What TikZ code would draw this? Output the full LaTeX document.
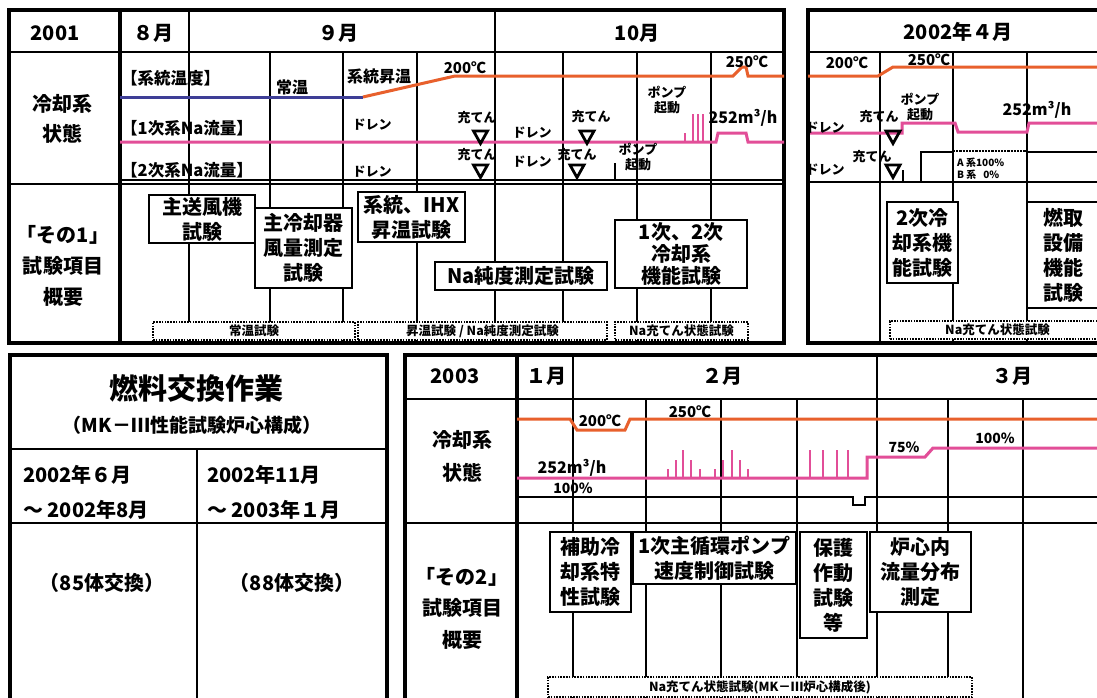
\documentclass[tikz,border=0pt]{standalone}
\usepackage{fontspec}
\setmainfont{Noto Sans CJK JP}
\definecolor{orng}{RGB}{232,96,44}
\definecolor{pnk}{RGB}{226,78,152}
\definecolor{blu}{RGB}{62,62,150}
\tikzset{
  border/.style={line width=3.2pt},
  grid/.style={line width=1.4pt},
  sep/.style={line width=2.2pt},
  tline/.style={line width=3pt, orng},
  pline/.style={line width=3pt, pnk},
  bline/.style={line width=3pt, blu},
  spike/.style={line width=2.2pt, pnk},
  box/.style={draw, line width=2pt, fill=white, align=center, inner sep=0pt, font=\fontsize{20}{25}\selectfont\bfseries},
  dbox/.style={draw, dash pattern=on 1.6pt off 1.2pt, line width=1.7pt, fill=white, inner sep=0pt, font=\fontsize{12.5}{14}\selectfont\bfseries},
  lbl/.style={align=center, inner sep=0pt, font=\fontsize{20}{30}\selectfont\bfseries},
  hdr/.style={inner sep=0pt, font=\fontsize{20}{22}\selectfont\bfseries},
  sm/.style={inner sep=0pt, font=\fontsize{15}{17}\selectfont\bfseries},
  xs/.style={inner sep=0pt, align=center, font=\fontsize{13}{14.5}\selectfont\bfseries},
  tiny/.style={inner sep=0pt, anchor=west, font=\fontsize{10}{11}\selectfont\bfseries},
  tri/.style={line width=2.8pt, black, line join=miter}
}
\newcommand\mytri[2]{\draw[tri] (#1-7,#2) -- (#1+7,#2) -- (#1,#2+12.5) -- cycle;}
\begin{document}
\begin{tikzpicture}[x=1pt,y=-1pt]
\useasboundingbox (0,0) rectangle (1097,697);
\fill[white] (0,0) rectangle (1097,697);
\clip (0,0) rectangle (1097,697);

%================ TOP-LEFT PANEL ================
\foreach \x in {270,343,417,563,637,711} \draw[grid] (\x,52) -- (\x,343);
\draw[grid] (189,10) -- (189,343);
\draw[grid] (495,10) -- (495,343);
\draw[grid] (9,52) -- (784,52);
\draw[sep] (120,180) -- (784,180);
\draw[sep] (9,184) -- (784,184);
\draw[border] (120,10) -- (120,343);
\draw[border] (9,10) rectangle (784,343);

\node[hdr] (h2001) at (55,33) {2001};
\node[hdr] (h8) at (153,33) {８月};
\node[hdr] (h9) at (338,33) {９月};
\node[hdr] (h10) at (637,33) {10月};
\node[lbl] (l1a) at (62,119) {冷却系\\状態};
\node[lbl, font=\fontsize{20}{31}\selectfont\bfseries] (l1b) at (63,266) {「その1」\\試験項目\\概要};

% temperature
\draw[bline] (120,97) -- (363,97);
\draw[tline] (363,97) -- (455,76) -- (733,76) -- (742,67) -- (746,67) -- (748,76) -- (784,76);
% primary flow
\draw[pline] (120,142) -- (716,142) -- (718,133) -- (746,133) -- (748,142) -- (784,142);
\foreach \x/\t in {685/133,693/114,698/114,703/114} \draw[spike] (\x,142) -- (\x,\t);
% secondary flow start
\draw[line width=2.2pt] (615,163) -- (615,180);

\node[sm, anchor=west, font=\fontsize{16.5}{18}\selectfont\bfseries] (t1) at (121,78) {【系統温度】};
\node[sm, font=\fontsize{16}{18}\selectfont\bfseries] (t2) at (292,87) {常温};
\node[sm, font=\fontsize{16}{18}\selectfont\bfseries] (t3) at (379,76) {系統昇温};
\node[sm] (t4) at (465,68) {200℃};
\node[sm] (t5) at (747,62) {250℃};
\node[sm, anchor=west, font=\fontsize{16.5}{18}\selectfont\bfseries] (t6) at (121,128) {【1次系Na流量】};
\node[sm, anchor=west, font=\fontsize{16.5}{18}\selectfont\bfseries] (t7) at (121,170) {【2次系Na流量】};
\node[xs] (d1) at (372,125) {ドレン};
\node[xs] (d2) at (372,172) {ドレン};
\node[xs] (c1) at (477,118) {充てん};
\node[xs] (d3) at (532,133) {ドレン};
\node[xs] (c2) at (591,117) {充てん};
\node[xs] (c3) at (477,155) {充てん};
\node[xs] (d4) at (532,162) {ドレン};
\node[xs] (c4) at (577,155) {充てん};
\node[xs] (p1) at (667,100) {ポンプ\\起動};
\node[xs] (p2) at (638,157) {ポンプ\\起動};
\node[sm, font=\fontsize{16}{18}\selectfont\bfseries] (f1) at (743,118) {252m³/h};
\mytri{480.5}{131}
\mytri{587}{131}
\mytri{480.5}{165}
\mytri{577}{165}

\node[box, minimum width=106pt, minimum height=48pt] (b1) at (202,219) {主送風機\\試験};
\node[box, minimum width=97pt, minimum height=80pt] (b2) at (303.5,248) {主冷却器\\風量測定\\試験};
\node[box, minimum width=107pt, minimum height=50pt] (b3) at (411.5,217) {系統、IHX\\昇温試験};
\node[box, minimum width=172pt, minimum height=28pt] (b4) at (521,276) {Na純度測定試験};
\node[box, minimum width=132pt, minimum height=68pt, font=\fontsize{20}{22}\selectfont\bfseries] (b5) at (681,254) {1次、2次\\冷却系\\機能試験};
\node[dbox, minimum width=202pt, minimum height=18pt] (g1) at (254,331) {常温試験};
\node[dbox, minimum width=249pt, minimum height=18pt] (g2) at (482.5,331) {昇温試験 / Na純度測定試験};
\node[dbox, minimum width=133pt, minimum height=18pt] (g3) at (681.5,331) {Na充てん状態試験};

%================ TOP-RIGHT PANEL ================
\foreach \x in {880,953,1027} \draw[grid] (\x,52) -- (\x,343);
\draw[grid] (808,52) -- (1105,52);
\draw[sep] (808,182) -- (1105,182);
\draw[border] (808,10) rectangle (1105,343);
\node[hdr] (h2002) at (958,32) {2002年４月};
\draw[tline] (808,76) -- (878,76) -- (893,67) -- (1105,67);
\draw[pline] (810,133) -- (902,133) -- (902,123) -- (955,123) -- (958,132) -- (1027,132) -- (1029,123) -- (1105,123);
\draw[line width=2.2pt] (903,170) -- (903,182) -- (921,182) -- (921,152) -- (953,152);
\draw[line width=2.2pt, densely dotted] (953,151) -- (1027,151);
\draw[line width=2.2pt] (1027,152) -- (1105,152);
\node[sm] (t8) at (847,63) {200℃};
\node[sm] (t9) at (929,60) {250℃};
\node[xs] (d5) at (825,128) {ドレン};
\node[xs] (c5) at (879,117) {充てん};
\node[xs] (p3) at (920,107) {ポンプ\\起動};
\node[sm, font=\fontsize{16}{18}\selectfont\bfseries] (f2) at (1037,110) {252m³/h};
\node[xs] (d6) at (825,170) {ドレン};
\node[xs] (c6) at (872,157) {充てん};
\node[tiny] (a1) at (957,163) {A 系100\%};
\node[tiny] (a2) at (957,175) {B 系\ \ \ 0\%};
\mytri{893}{131}
\mytri{893}{165}
\node[box, minimum width=71pt, minimum height=81pt] (b6) at (922.5,242.5) {2次冷\\却系機\\能試験};
\node[box, minimum width=73pt, minimum height=106pt] (b7) at (1063.5,255) {燃取\\設備\\機能\\試験};
\node[dbox, minimum width=215pt, minimum height=18pt] (g4) at (997.5,330) {Na充てん状態試験};

%================ BOTTOM-LEFT PANEL ================
\draw[grid] (10,449) -- (387,449);
\draw[grid] (10,523) -- (387,523);
\draw[grid] (197,449) -- (197,705);
\draw[border] (10,355) rectangle (387,705);
\node[inner sep=0pt, font=\fontsize{29}{32}\selectfont\bfseries] (n1) at (196,388) {燃料交換作業};
\node[inner sep=0pt, font=\fontsize{19}{21}\selectfont\bfseries] (n2) at (192,425) {（MK－Ⅲ性能試験炉心構成）};
\node[hdr, anchor=west] (n3) at (23,475) {2002年６月};
\node[hdr, anchor=west] (n4) at (23,510) {～ 2002年8月};
\node[hdr, anchor=west] (n5) at (207,475) {2002年11月};
\node[hdr, anchor=west] (n6) at (207,510) {～ 2003年１月};
\node[hdr] (n7) at (102,583) {（85体交換）};
\node[hdr] (n8) at (292,583) {（88体交換）};

%================ BOTTOM-RIGHT PANEL ================
\foreach \x in {646,721,797,948,1023} \draw[grid] (\x,399) -- (\x,705);
\draw[grid] (573,355) -- (573,705);
\draw[grid] (877,355) -- (877,705);
\draw[grid] (405,399) -- (1105,399);
\draw[line width=2.2pt] (517,497) -- (853,497) -- (853,505) -- (865,505) -- (865,497) -- (1105,497);
\draw[sep] (405,523) -- (1105,523);
\draw[border] (517,355) -- (517,705);
\draw[border] (405,355) rectangle (1105,705);

\node[hdr] (h2003) at (455,376) {2003};
\node[hdr] (m1) at (546,376) {１月};
\node[hdr] (m2) at (722,376) {２月};
\node[hdr] (m3) at (1012,376) {３月};
\node[lbl, font=\fontsize{20}{33}\selectfont\bfseries] (l2a) at (462,456) {冷却系\\状態};
\node[lbl, font=\fontsize{20}{31.5}\selectfont\bfseries] (l2b) at (462,608) {「その2」\\試験項目\\概要};

\draw[tline] (517,419) -- (570,419) -- (577,430) -- (625,430) -- (630,419) -- (1105,419);
\draw[pline] (517,478) -- (867,478) -- (867,457) -- (925,457) -- (933,448) -- (1105,448);
\foreach \x/\t in {668/469,676/460,683/450,691/460,700/469,715/469,723/460,732/450,740/460,748/469,810/450,823/450,837/450,848/450}
  \draw[spike] (\x,478) -- (\x,\t);
\node[sm] (t10) at (600,421) {200℃};
\node[sm] (t11) at (690,412) {250℃};
\node[sm, font=\fontsize{16}{18}\selectfont\bfseries] (f3) at (572,468) {252m³/h};
\node[sm, font=\fontsize{14}{16}\selectfont\bfseries] (t12) at (573,488) {100\%};
\node[sm, font=\fontsize{14}{16}\selectfont\bfseries] (t13) at (904,447) {75\%};
\node[sm, font=\fontsize{14}{16}\selectfont\bfseries] (t14) at (995,438) {100\%};

\node[box, minimum width=81pt, minimum height=80pt] (b8) at (590.5,572) {補助冷\\却系特\\性試験};
\node[box, minimum width=163pt, minimum height=52pt] (b9) at (714.5,558) {1次主循環ポンプ\\速度制御試験};
\node[box, minimum width=67pt, minimum height=106pt] (b10) at (833.5,585) {保護\\作動\\試験\\等};
\node[box, minimum width=101pt, minimum height=80pt] (b11) at (920.5,572) {炉心内\\流量分布\\測定};
\node[dbox, minimum width=424pt, minimum height=20pt] (g5) at (760,687) {Na充てん状態試験(MK－Ⅲ炉心構成後)};
\end{tikzpicture}
\end{document}
